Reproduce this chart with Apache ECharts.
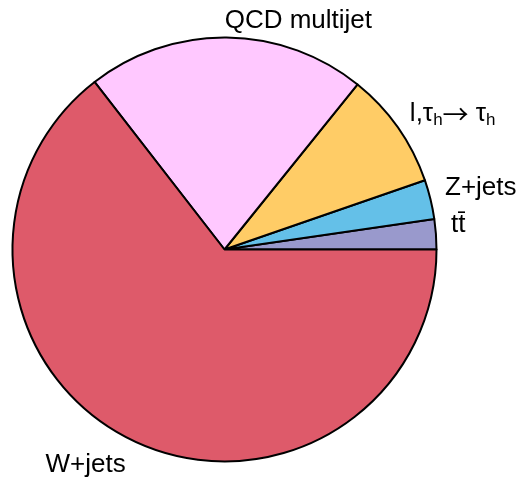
<!DOCTYPE html>
<html>
<head>
<meta charset="utf-8">
<script src="https://cdn.jsdelivr.net/npm/echarts@6/dist/echarts.min.js"></script>
<style>
  html, body { margin: 0; padding: 0; background: #fff; }
  #chart { width: 519px; height: 481px; }
</style>
</head>
<body>
<div id="chart"></div>
<script>
// slices, counterclockwise from 3 o'clock
const names = ['tt\u0304', 'Z+jets', 'l,\u03c4h\u2192 \u03c4h', 'QCD multijet', 'W+jets']
const labels = ['tt\u0304', 'Z+jets', '{n|l,\u03c4}{sub|h}{arr|\u2192}{n| \u03c4}{sub|h}', 'QCD multijet', 'W+jets']
const values = [2.3, 3.0, 8.9, 21.3, 64.5]
const colors = ['#9999cc', '#64c0e8', '#ffcc66', '#ffc8ff', '#de5a6a']
// label box padding (top, bottom) to mimic the reference's text placement
const labelPad = [[0, 16], [0, 16], [0, 8], [0, 0], [20, 0]]

const font = 'Liberation Sans, Arial, sans-serif'
const chart = echarts.init(document.getElementById('chart'))

chart.setOption({
  animation: false,
  series: [
    {
      type: 'pie',
      center: [224.5, 249.5],
      radius: 212,
      startAngle: 0,
      clockwise: false,
      avoidLabelOverlap: false,
      minShowLabelAngle: 0,
      itemStyle: {
        borderColor: '#000',
        borderWidth: 2
      },
      emphasis: { disabled: true },
      label: {
        show: true,
        position: 'outside',
        color: '#000',
        fontFamily: font,
        fontSize: 26,
        distanceToLabelLine: -2,
        formatter: function (p) {
          return labels[p.dataIndex]
        },
        rich: {
          n: { fontSize: 26, lineHeight: 30, color: '#000', fontFamily: font },
          arr: { fontSize: 26, lineHeight: 30, color: '#000', fontFamily: 'Noto Sans CJK SC' },
          sub: { fontSize: 17, lineHeight: 18, verticalAlign: 'bottom', color: '#000', fontFamily: font }
        }
      },
      labelLine: {
        show: false,
        length: 17,
        length2: 0
      },
      data: names.map(function (n, i) {
        return {
          name: n,
          value: values[i],
          itemStyle: { color: colors[i] },
          label: { padding: [labelPad[i][0], 0, labelPad[i][1], 0] }
        }
      })
    }
  ]
})
</script>
</body>
</html>
